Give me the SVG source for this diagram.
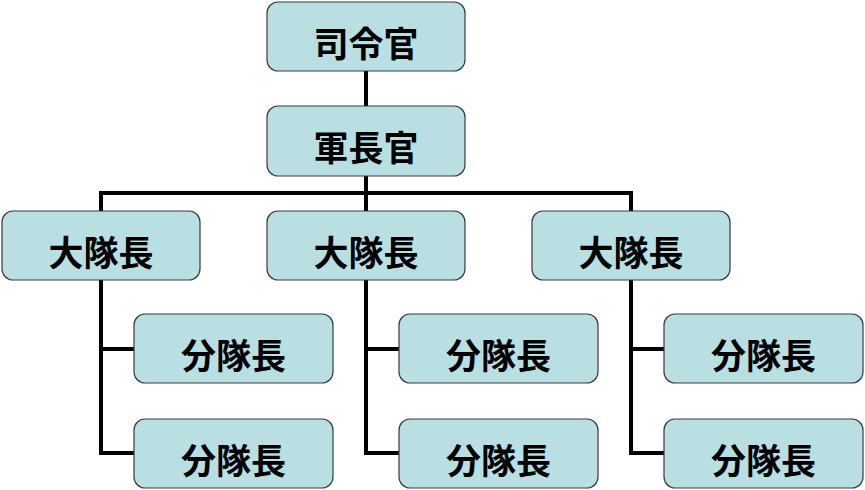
<svg xmlns="http://www.w3.org/2000/svg" width="865" height="490" viewBox="0 0 865 490">
<style>
.box{fill:#B9DFE2;stroke:#3a3a3a;stroke-width:1.2}
.lbl{font-family:"Noto Sans CJK JP","Noto Sans CJK SC",sans-serif;font-weight:bold;font-size:35px;fill:#000;text-anchor:middle;dominant-baseline:central}
.ln{fill:none;stroke:#000;stroke-width:4}
</style>
<rect width="865" height="490" fill="#fff"/>
<g id="connectors">
<line class="ln" x1="366" y1="71" x2="366" y2="106"/>
<line class="ln" x1="366" y1="176" x2="366" y2="211"/>
<polyline class="ln" points="101,211 101,193 631,193 631,211"/>
<polyline class="ln" points="101,280 101,453 134,453"/>
<line class="ln" x1="101" y1="349" x2="134" y2="349"/>
<polyline class="ln" points="366,280 366,453 399,453"/>
<line class="ln" x1="366" y1="349" x2="399" y2="349"/>
<polyline class="ln" points="631,280 631,453 664,453"/>
<line class="ln" x1="631" y1="349" x2="664" y2="349"/>
</g>
<g id="n-shireikan"><rect class="box" x="267" y="2" width="198" height="69" rx="11"/><text class="lbl" x="366" y="41">司令官</text></g>
<g id="n-gunchokan"><rect class="box" x="267" y="106" width="198" height="70" rx="11"/><text class="lbl" x="366" y="145">軍長官</text></g>
<g id="n-daitai1"><rect class="box" x="2" y="211" width="198" height="69" rx="11"/><text class="lbl" x="101" y="250">大隊長</text></g>
<g id="n-daitai2"><rect class="box" x="267" y="211" width="198" height="69" rx="11"/><text class="lbl" x="366" y="250">大隊長</text></g>
<g id="n-daitai3"><rect class="box" x="532" y="211" width="198" height="69" rx="11"/><text class="lbl" x="631" y="250">大隊長</text></g>
<g id="n-buntai1a"><rect class="box" x="134" y="314" width="199" height="69" rx="11"/><text class="lbl" x="233.5" y="353">分隊長</text></g>
<g id="n-buntai1b"><rect class="box" x="134" y="419" width="199" height="69" rx="11"/><text class="lbl" x="233.5" y="458">分隊長</text></g>
<g id="n-buntai2a"><rect class="box" x="399" y="314" width="199" height="69" rx="11"/><text class="lbl" x="498.5" y="353">分隊長</text></g>
<g id="n-buntai2b"><rect class="box" x="399" y="419" width="199" height="69" rx="11"/><text class="lbl" x="498.5" y="458">分隊長</text></g>
<g id="n-buntai3a"><rect class="box" x="664" y="314" width="199" height="69" rx="11"/><text class="lbl" x="763.5" y="353">分隊長</text></g>
<g id="n-buntai3b"><rect class="box" x="664" y="419" width="199" height="69" rx="11"/><text class="lbl" x="763.5" y="458">分隊長</text></g>
</svg>
